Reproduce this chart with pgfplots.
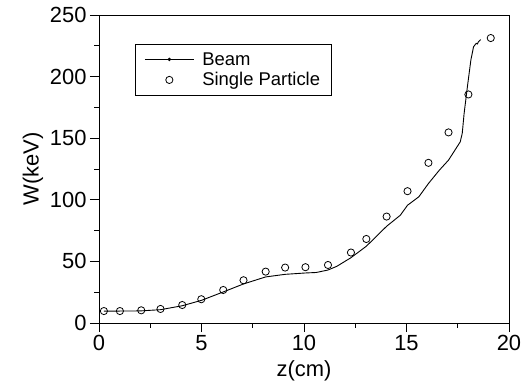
\documentclass[border=0pt]{standalone}
\usepackage{fontspec}
\setmainfont{Liberation Sans}
\usepackage{pgfplots}
\pgfplotsset{compat=1.18}
\begin{document}
\begin{tikzpicture}
\begin{axis}[
  scale only axis, width=410bp, height=308bp,
  xmin=0, xmax=20, ymin=0, ymax=250,
  xtick={0,5,10,15,20}, ytick={0,50,100,150,200,250},
  minor tick num=1,
  tick pos=left, tick align=outside,
  major tick length=9bp, minor tick length=4.5bp,
  every tick/.style={black, line width=0.8bp},
  axis line style={line width=0.8bp},
  /pgf/number format/assume math mode=true,
  tick label style={font=\fontsize{22}{26}\selectfont},
  label style={font=\fontsize{22}{26}\selectfont},
  xlabel={z(cm)}, ylabel={W(keV)},
  xlabel style={yshift=-3bp},
  legend style={at={(0.0878,0.906)}, anchor=north west, draw=black, line width=0.8bp,
    font=\fontsize{18.5}{22}\selectfont, inner xsep=9bp, inner ysep=6bp, row sep=2bp,
    column sep=6bp, cells={anchor=west}},
]
\addplot[black, line width=0.9bp, mark=none,
  legend image code/.code={\draw[black, line width=0.9bp] (0bp,0bp) -- (49bp,0bp);
    \fill[black] (24.5bp,0bp) circle (1.2bp);}]
 coordinates {
 (0.24,9.7) (1,9.7) (2,9.8) (3,10.8) (4.06,14) (5,18.4) (6.06,25.2) (7.05,31.7)
 (8.13,37.4) (9.08,39.5) (10.07,40.6) (10.6,41) (11.17,43) (11.6,46) (12.29,53)
 (13.04,62.3) (14.03,78.5) (14.7,87.5) (15.05,95.6) (15.6,102.4) (16.07,113.2)
 (16.6,124) (17.05,132.2) (17.62,147) (17.72,154) (17.81,170) (17.97,191.7)
 (18.14,213.4) (18.27,224.2) (18.4,227) (18.46,226.5) (18.5,228) (18.62,230)
 };
\addlegendentry{Beam}
\addplot[only marks, mark=o, mark size=3.6bp, mark options={black, fill=white, line width=0.8bp},
  legend image code/.code={\draw[black, fill=white, line width=0.8bp] (24.5bp,0bp) circle (3.6bp);}]
 coordinates {
 (0.24,9.7) (1.02,9.7) (2.06,10.3) (3.0,11.4) (4.06,14.6) (4.99,19.3) (6.06,26.8)
 (7.05,34.7) (8.13,41.7) (9.08,45) (10.07,45.3) (11.17,47.1) (12.29,57.2) (13.04,68.2)
 (14.03,86.4) (15.05,107) (16.07,130) (17.05,154.7) (18.02,185.5) (19.11,231.3)
 };
\addlegendentry{Single Particle}
\end{axis}
\pgfresetboundingbox
\path ([shift={(-99bp,-67.3bp)}]current axis.south west) rectangle ([shift={(19bp,15bp)}]current axis.north east);
\end{tikzpicture}
\end{document}
